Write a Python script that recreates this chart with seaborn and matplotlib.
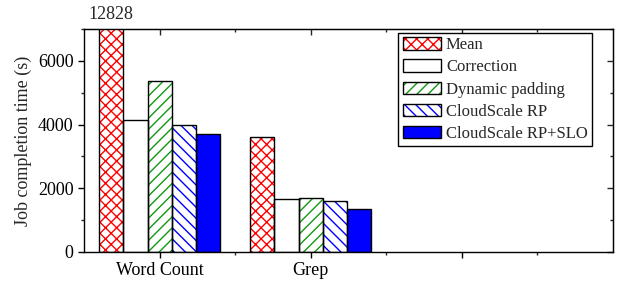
import numpy as np
import pandas as pd
import matplotlib
matplotlib.use("Agg")
import matplotlib.pyplot as plt
import seaborn as sns
from matplotlib.patches import Patch, Rectangle
from matplotlib.ticker import MultipleLocator, FixedLocator

sns.set_style("ticks")
plt.rcParams["font.family"] = ["Liberation Serif", "DejaVu Serif"]
plt.rcParams["hatch.linewidth"] = 1.0

jobs = ["Word Count", "Grep"]
methods = ["Mean", "Correction", "Dynamic padding", "CloudScale RP", "CloudScale RP+SLO"]
mean_t = [12828, 3600]
correction_t = [4130, 1655]
padding_t = [5360, 1690]
rp_t = [3980, 1590]
rp_slo_t = [3700, 1360]

hatches = ["xxx", "", "///", "\\\\\\", ""]
hatch_colors = ["#ff0000", "#000000", "#119911", "#0000ff", "#0000ff"]
fills = ["white", "white", "white", "white", "#0000ff"]

values = [mean_t, correction_t, padding_t, rp_t, rp_slo_t]
df = pd.DataFrame(
    [(j, m, v[i]) for m, v in zip(methods, values) for i, j in enumerate(jobs)],
    columns=["job", "method", "time"],
)

FS = 13

fig, ax = plt.subplots(figsize=(6.18, 2.85), dpi=100)
fig.subplots_adjust(left=0.136, right=0.992, top=0.898, bottom=0.116)

sns.barplot(data=df, x="job", y="time", hue="method", order=jobs, hue_order=methods,
            palette=dict(zip(methods, fills)), saturation=1, width=0.8,
            linewidth=0, legend=False, ax=ax)

for cont, h, hc in zip(ax.containers, hatches, hatch_colors):
    for p in cont:
        p.set_hatch(h)
        p.set_edgecolor(hc)
        p.set_linewidth(0)
        ax.add_patch(Rectangle(p.get_xy(), p.get_width(), p.get_height(),
                               fill=False, edgecolor="black", linewidth=1.0, zorder=p.get_zorder() + 0.1))

ax.set_ylim(0, 7000)
ax.set_xlim(-0.5, 3.0)
ax.set_xticks([0, 1, 2])
ax.set_xticklabels(jobs + [""])
ax.xaxis.set_minor_locator(FixedLocator([0.5, 1.5, 2.5]))
ax.yaxis.set_major_locator(MultipleLocator(2000))
ax.yaxis.set_minor_locator(MultipleLocator(1000))
ax.tick_params(which="major", direction="out", length=4, width=1, labelsize=FS, colors="black")
ax.tick_params(which="minor", direction="out", length=2.5, width=1)
ax.set_xlabel("")
ax.set_ylabel("Job completion time (s)", fontsize=FS)
for s in ax.spines.values():
    s.set_linewidth(1.0)
    s.set_color("black")

top = ax.secondary_xaxis("top")
top.set_xticks([0, 1, 2])
top.xaxis.set_minor_locator(FixedLocator([0.5, 1.5, 2.5]))
top.tick_params(which="major", direction="in", length=4, width=1, labeltop=False)
top.tick_params(which="minor", direction="in", length=2.5, width=1)
right = ax.secondary_yaxis("right")
right.yaxis.set_major_locator(MultipleLocator(2000))
right.yaxis.set_minor_locator(MultipleLocator(1000))
right.tick_params(which="major", direction="in", length=4, width=1, labelright=False)
right.tick_params(which="minor", direction="in", length=2.5, width=1)

# value of the clipped bar
clip_bar = ax.containers[0][0]
ax.text(clip_bar.get_x() + clip_bar.get_width() / 2, 1.045, f"{mean_t[0]}",
        transform=ax.get_xaxis_transform(), ha="center", va="baseline", fontsize=FS)

handles = [(Patch(facecolor=f, edgecolor=hc, hatch=h, linewidth=0),
            Patch(fill=False, edgecolor="black", linewidth=1.0))
           for f, hc, h in zip(fills, hatch_colors, hatches)]
leg = ax.legend(handles, methods, loc="upper right", bbox_to_anchor=(0.96, 0.982),
                borderaxespad=0, fontsize=12, handlelength=2.3, handleheight=0.75,
                handletextpad=0.3, labelspacing=0.37, borderpad=0.25,
                fancybox=False, framealpha=1, edgecolor="black")
leg.get_frame().set_linewidth(1.0)

fig.savefig("out.png", dpi=100)
